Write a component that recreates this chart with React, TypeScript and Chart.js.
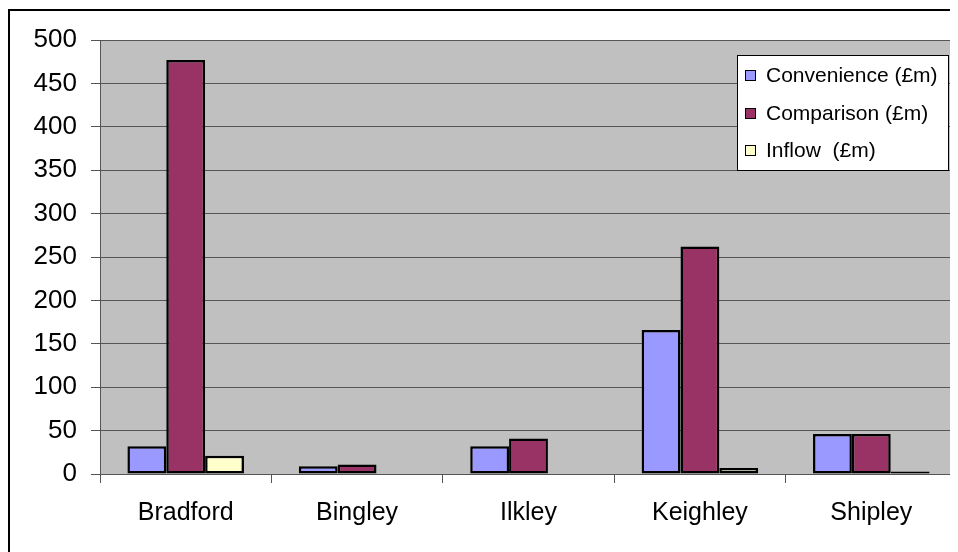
import React, { useEffect, useRef } from "react";
import { Chart, registerables } from "chart.js";

Chart.register(...registerables);

const categories = ["Bradford", "Bingley", "Ilkley", "Keighley", "Shipley"];
const convenience = [32, 9, 32, 166, 46];
const comparison = [477, 11, 41, 262, 46];
const inflow = [21, 0, 0, 7, 3];
const seriesLabels = ["Convenience (£m)", "Comparison (£m)", "Inflow  (£m)"];
const seriesColors = ["#9999FF", "#993366", "#FFFFCC"];
const yTicks = [0, 50, 100, 150, 200, 250, 300, 350, 400, 450, 500];

const FONT = '"Liberation Sans", Arial, sans-serif';

const bgPlugin = {
  id: "bgPlugin",
  beforeDraw(chart: any) {
    const { ctx, chartArea } = chart;
    ctx.save();
    ctx.fillStyle = "#ffffff";
    ctx.fillRect(0, 0, chart.width, chart.height);
    ctx.fillStyle = "#C0C0C0";
    ctx.fillRect(chartArea.left, chartArea.top, chartArea.right - chartArea.left, chartArea.bottom - chartArea.top);
    ctx.fillStyle = "#000000";
    ctx.fillRect(0, 1, 2, chart.height);
    ctx.fillRect(0, 1, chart.width, 2);
    ctx.restore();
  },
};

const legendPlugin = {
  id: "boxLegend",
  afterDraw(chart: any) {
    const { ctx } = chart;
    const x = 729, y = 47, w = 211, h = 115;
    ctx.save();
    ctx.fillStyle = "#ffffff";
    ctx.fillRect(x, y, w, h);
    ctx.strokeStyle = "#000000";
    ctx.lineWidth = 1;
    ctx.strokeRect(x + 0.5, y + 0.5, w, h);
    const rows = [20, 58, 95];
    chart.data.datasets.forEach((ds: any, i: number) => {
      const cy = y + rows[i];
      ctx.fillStyle = ds.backgroundColor;
      ctx.fillRect(x + 8, cy - 5, 10, 10);
      ctx.strokeRect(x + 8.5, cy - 4.5, 10, 10);
      ctx.fillStyle = "#000000";
      ctx.font = `21px ${FONT}`;
      ctx.textBaseline = "middle";
      ctx.textAlign = "left";
      ctx.fillText(ds.label, x + 29, cy + 1);
    });
    ctx.restore();
  },
};

export default function App() {
  const ref = useRef<HTMLCanvasElement | null>(null);
  useEffect(() => {
    document.documentElement.style.overflow = "hidden";
    document.body.style.overflow = "hidden";
    const canvas = ref.current!;
    const chart = new Chart(canvas, {
      type: "bar",
      data: {
        labels: categories,
        datasets: [
          { label: seriesLabels[0], data: convenience, backgroundColor: seriesColors[0] },
          { label: seriesLabels[1], data: comparison, backgroundColor: seriesColors[1] },
          { label: seriesLabels[2], data: inflow, backgroundColor: seriesColors[2] },
        ].map((d) => ({
          ...d,
          borderColor: "#000000",
          borderWidth: 2.5,
          borderSkipped: false,
          categoryPercentage: 0.68,
          barPercentage: 1,
        })),
      },
      options: {
        responsive: false,
        animation: false,
        layout: { padding: { top: 32, right: 1, left: 0, bottom: 0 } },
        plugins: { legend: { display: false }, tooltip: { enabled: false } },
        scales: {
          x: {
            offset: true,
            grid: {
              display: true,
              offset: true,
              drawOnChartArea: false,
              drawTicks: true,
              tickLength: 9,
              color: "#555555",
              lineWidth: 1,
            },
            border: { display: true, color: "#555555", width: 1 },
            ticks: {
              color: "#000000",
              font: { family: FONT, size: 25 },
              padding: 15,
              maxRotation: 0,
            },
            afterFit(scale: any) {
              scale.height = 78;
            },
          },
          y: {
            min: 0,
            max: 500,
            afterBuildTicks(scale: any) {
              scale.ticks = yTicks.map((v) => ({ value: v }));
            },
            grid: {
              color: "#555555",
              lineWidth: 1,
              drawTicks: true,
              tickLength: 9,
            },
            border: { display: true, color: "#555555", width: 1 },
            ticks: {
              color: "#000000",
              font: { family: FONT, size: 26 },
              padding: 14,
            },
            afterFit(scale: any) {
              scale.width = 92;
            },
          },
        },
      },
      plugins: [bgPlugin, legendPlugin],
    });
    return () => chart.destroy();
  }, []);
  return (
    <div style={{ width: 950, height: 544, overflow: "hidden" }}>
      <canvas ref={ref} width={950} height={544} style={{ display: "block", width: 950, height: 544 }} />
    </div>
  );
}
